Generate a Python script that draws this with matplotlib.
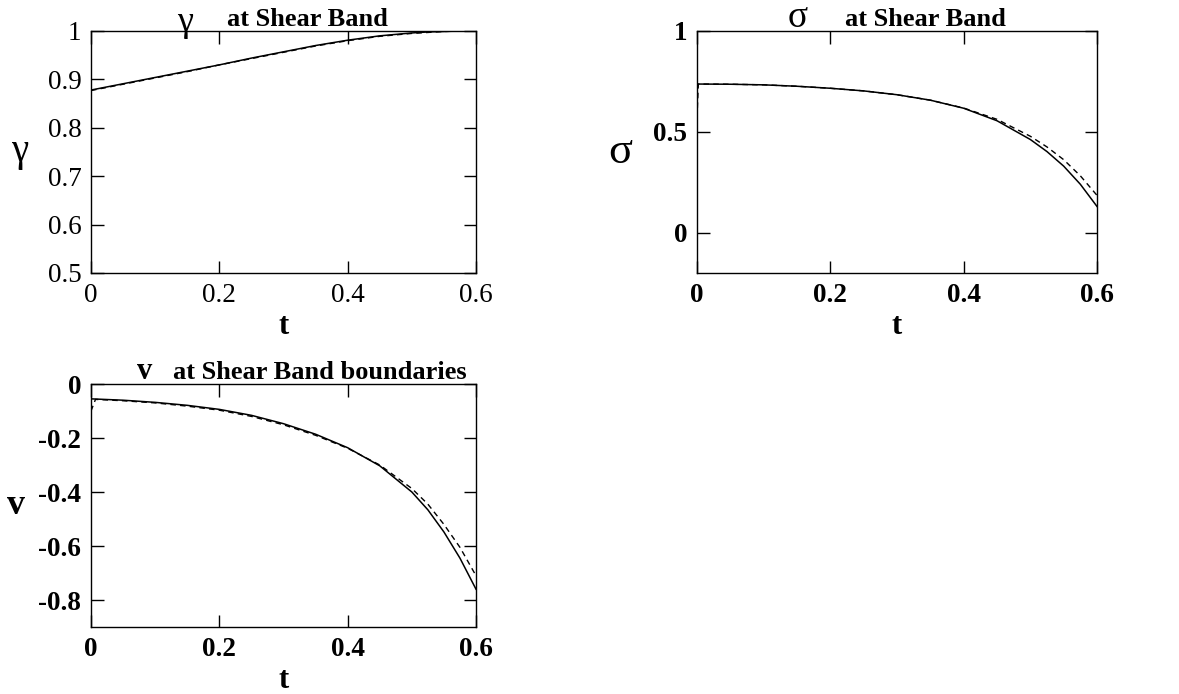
import matplotlib
matplotlib.use('Agg')
import matplotlib.pyplot as plt

# dane
t = [0.0, 0.05, 0.1, 0.15, 0.2, 0.25, 0.3, 0.35, 0.4, 0.45, 0.5, 0.525, 0.55, 0.575, 0.6]

gamma_solid = [0.878, 0.891, 0.904, 0.917, 0.930, 0.944, 0.957, 0.970, 0.981, 0.990, 0.996, 0.998, 0.999, 1.0, 1.0]
gamma_dash = [0.877, 0.890, 0.903, 0.916, 0.930, 0.943, 0.956, 0.969, 0.980, 0.989, 0.995, 0.997, 0.999, 1.0, 1.0]

sigma_solid = [0.737, 0.736, 0.733, 0.726, 0.716, 0.703, 0.684, 0.657, 0.617, 0.555, 0.462, 0.402, 0.330, 0.240, 0.130]
t_sigma_dash = [0.0, 0.002, 0.05, 0.1, 0.15, 0.2, 0.25, 0.3, 0.35, 0.4, 0.45, 0.5, 0.525, 0.55, 0.575, 0.6]
sigma_dash = [0.57, 0.737, 0.736, 0.733, 0.726, 0.716, 0.703, 0.684, 0.657, 0.618, 0.562, 0.478, 0.425, 0.362, 0.282, 0.185]

v_solid = [-0.055, -0.060, -0.068, -0.079, -0.094, -0.116, -0.147, -0.186, -0.236, -0.303, -0.400, -0.466, -0.548, -0.645, -0.760]
t_v_dash = [0.0, 0.007, 0.05, 0.1, 0.15, 0.2, 0.25, 0.3, 0.35, 0.4, 0.45, 0.5, 0.525, 0.55, 0.575, 0.6]
v_dash = [-0.100, -0.057, -0.062, -0.070, -0.082, -0.097, -0.120, -0.151, -0.190, -0.238, -0.300, -0.387, -0.445, -0.520, -0.605, -0.710]

xticks = [0, 0.2, 0.4, 0.6]
xtick_labels = ['0', '0.2', '0.4', '0.6']

plt.rcParams['font.family'] = ['Liberation Serif', 'DejaVu Serif']

fig = plt.figure(figsize=(11.79, 6.94), dpi=100)
W, H = 1179.0, 694.0


def make_axes(x0, y0, x1, y1):
    return fig.add_axes([x0 / W, 1 - y1 / H, (x1 - x0) / W, (y1 - y0) / H])


def style(ax, bold):
    ax.tick_params(direction='in', length=9, width=1, top=True, right=True,
                   labelsize=19.5, pad=7)
    for lab in ax.get_xticklabels() + ax.get_yticklabels():
        lab.set_fontweight('bold' if bold else 'normal')
    for s in ax.spines.values():
        s.set_linewidth(1.0)


def title(ax, sym, sym_x, sym_dy, txt, txt_x, sym_size, sym_bold=False):
    y = 1 + 5.0 / 242
    ax.text(sym_x, 1 + sym_dy / 242, sym, transform=ax.transAxes, ha='center',
            va='baseline', fontsize=sym_size,
            fontweight='bold' if sym_bold else 'normal')
    ax.text(txt_x, y, txt, transform=ax.transAxes, ha='center', va='baseline',
            fontsize=19, fontweight='bold')


# --- gamma ---
ax1 = make_axes(91, 31, 476, 273)
ax1.plot(t, gamma_dash, 'k--', lw=1.0, dashes=(4, 3))
ax1.plot(t, gamma_solid, 'k-', lw=1.1)
ax1.set_xlim(0, 0.6)
ax1.set_ylim(0.5, 1.0)
ax1.set_xticks(xticks)
ax1.set_xticklabels(xtick_labels)
ax1.set_yticks([0.5, 0.6, 0.7, 0.8, 0.9, 1.0])
ax1.set_yticklabels(['0.5', '0.6', '0.7', '0.8', '0.9', '1'])
style(ax1, False)
ax1.set_xlabel('t', fontsize=22, fontweight='bold', labelpad=3)
ax1.set_ylabel('γ', fontsize=28, rotation=0, labelpad=20, va='center')
title(ax1, 'γ', 0.244, 0, 'at Shear Band', 0.561, 26)

# --- sigma ---
ax2 = make_axes(697, 31, 1097, 273)
ax2.plot(t_sigma_dash, sigma_dash, 'k--', lw=1.0, dashes=(4, 3))
ax2.plot(t, sigma_solid, 'k-', lw=1.1)
ax2.set_xlim(0, 0.6)
ax2.set_ylim(-0.2, 1.0)
ax2.set_xticks(xticks)
ax2.set_xticklabels(xtick_labels)
ax2.set_yticks([0, 0.5, 1.0])
ax2.set_yticklabels(['0', '0.5', '1'])
style(ax2, True)
ax2.set_xlabel('t', fontsize=22, fontweight='bold', labelpad=3)
ax2.set_ylabel('σ', fontsize=32, rotation=0, labelpad=24, va='center')
title(ax2, 'σ', 0.2525, 4, 'at Shear Band', 0.571, 27)

# --- v ---
ax3 = make_axes(91, 384, 476, 627)
ax3.plot(t_v_dash, v_dash, 'k--', lw=1.0, dashes=(4, 3))
ax3.plot(t, v_solid, 'k-', lw=1.1)
ax3.set_xlim(0, 0.6)
ax3.set_ylim(-0.9, 0.0)
ax3.set_xticks(xticks)
ax3.set_xticklabels(xtick_labels)
ax3.set_yticks([-0.8, -0.6, -0.4, -0.2, 0.0])
ax3.set_yticklabels(['-0.8', '-0.6', '-0.4', '-0.2', '0'])
style(ax3, True)
ax3.set_xlabel('t', fontsize=22, fontweight='bold', labelpad=3)
ax3.set_ylabel('v', fontsize=26, fontweight='bold', rotation=0, labelpad=16, va='center')
title(ax3, 'v', 0.138, 5, 'at Shear Band boundaries', 0.594, 22, sym_bold=True)

fig.savefig('out.png', dpi=100)
